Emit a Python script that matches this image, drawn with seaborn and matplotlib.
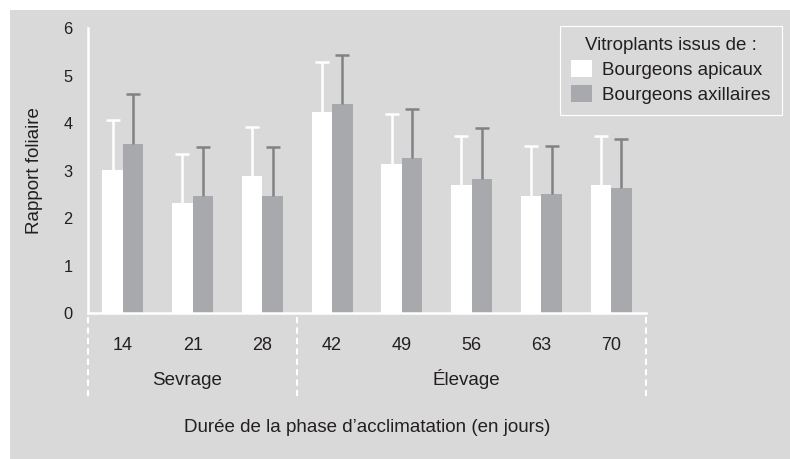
import matplotlib
matplotlib.use("Agg")
import matplotlib.pyplot as plt
import matplotlib.transforms as mtransforms
from matplotlib.patches import Patch, Rectangle
import pandas as pd
import seaborn as sns

# durée d'acclimatation (jours)
jours = ["14", "21", "28", "42", "49", "56", "63", "70"]
phases = ["Sevrage", "Élevage"]
phase_debut = [0, 3]
phase_fin = [2, 7]

# rapport foliaire moyen + écart (barre d'erreur vers le haut)
apicaux = [3.02, 2.32, 2.88, 4.23, 3.14, 2.69, 2.46, 2.69]
apicaux_err = [1.04, 1.03, 1.04, 1.05, 1.05, 1.04, 1.05, 1.04]
axillaires = [3.57, 2.46, 2.46, 4.40, 3.26, 2.83, 2.50, 2.63]
axillaires_err = [1.04, 1.04, 1.04, 1.03, 1.04, 1.07, 1.03, 1.04]

series = ["Bourgeons apicaux", "Bourgeons axillaires"]

BG = "#d9d9d9"
GRIS = "#a7a9ac"
GRIS_ERR = "#808285"
TXT = "#231f20"

df = pd.DataFrame({
    "jour": jours * 2,
    "valeur": apicaux + axillaires,
    "source": [series[0]] * len(jours) + [series[1]] * len(jours),
})

sns.set_style("white")
plt.rcParams["font.family"] = ["Liberation Sans", "DejaVu Sans"]
plt.rcParams["text.color"] = TXT

fig = plt.figure(figsize=(7.9, 4.59), dpi=100)
fig.patch.set_facecolor("white")
fig.patches.append(Rectangle((10 / 790, 0), 1, 449 / 459, transform=fig.transFigure,
                             facecolor=BG, edgecolor="none", zorder=-10))

ax = fig.add_axes([88 / 790, (459 - 313) / 459, (646 - 88) / 790, (313 - 28.3) / 459])
ax.set_facecolor("none")

sns.barplot(data=df, x="jour", y="valeur", hue="source", order=jours,
            hue_order=series, palette=["white", GRIS], saturation=1,
            width=0.59, gap=0, errorbar=None, linewidth=0, legend=False, ax=ax)

# barres d'erreur (seulement vers le haut)
for cont, err, col in zip(ax.containers, [apicaux_err, axillaires_err], ["white", GRIS_ERR]):
    for bar, e in zip(cont, err):
        xc = bar.get_x() + bar.get_width() / 2
        top = bar.get_height()
        ax.vlines(xc, top, top + e, color=col, lw=1.8, zorder=3)
        ax.hlines(top + e, xc - 0.1, xc + 0.1, color=col, lw=1.8, zorder=3)

ax.set_ylim(0, 6)
ax.set_xlim(-0.5, len(jours) - 0.5)
ax.set_yticks(range(7))

sns.despine(ax=ax)
for s in ["left", "bottom"]:
    ax.spines[s].set_color("white")
    ax.spines[s].set_linewidth(1.8)

ax.tick_params(axis="y", colors="white", length=5, width=1.5, pad=6,
               labelcolor=TXT, labelsize=11.8)
ax.tick_params(axis="x", which="major", length=0, pad=17, labelcolor=TXT, labelsize=13)
ax.set_xticks([0.5, 1.5, 3.5, 4.5, 5.5, 6.5], minor=True)
ax.tick_params(axis="x", which="minor", colors="white", length=5.8, width=1.5)

# séparations pointillées des phases
trans = mtransforms.blended_transform_factory(ax.transData, ax.transAxes)
for xb in [-0.5, 2.5, len(jours) - 0.5]:
    ax.plot([xb, xb], [-0.015, -0.295], transform=trans, color="white", lw=1.5,
            ls=(0, (3, 2)), clip_on=False)

for nom, d, f in zip(phases, phase_debut, phase_fin):
    ax.text((d + f) / 2 - 0.08, -0.252, nom, transform=trans, ha="center",
            va="baseline", fontsize=13.5, color=TXT)

ax.set_xlabel("Durée de la phase d’acclimatation (en jours)", fontsize=13.5, color=TXT)
ax.xaxis.label.set_va("baseline")
ax.xaxis.set_label_coords(0.5, -0.418)
ax.set_ylabel("Rapport foliaire", fontsize=13.5, color=TXT)
ax.yaxis.label.set_va("center")
ax.yaxis.set_label_coords(-0.0966, 0.5)

handles = [Patch(facecolor="white", edgecolor="none"), Patch(facecolor=GRIS, edgecolor="none")]
leg = ax.legend(handles, series, title="Vitroplants issus de :", loc="upper right",
                bbox_to_anchor=(782 / 790, 1 - 26 / 459), bbox_transform=fig.transFigure,
                borderaxespad=0, fontsize=13.5, title_fontsize=13.5, frameon=True,
                fancybox=False, framealpha=1, facecolor=BG, edgecolor="white",
                handlelength=1.13, handleheight=1.05, handletextpad=0.55,
                labelspacing=0.3, borderpad=0.6)
leg.get_frame().set_linewidth(0.8)

fig.savefig("out.png", dpi=100, facecolor="white")
